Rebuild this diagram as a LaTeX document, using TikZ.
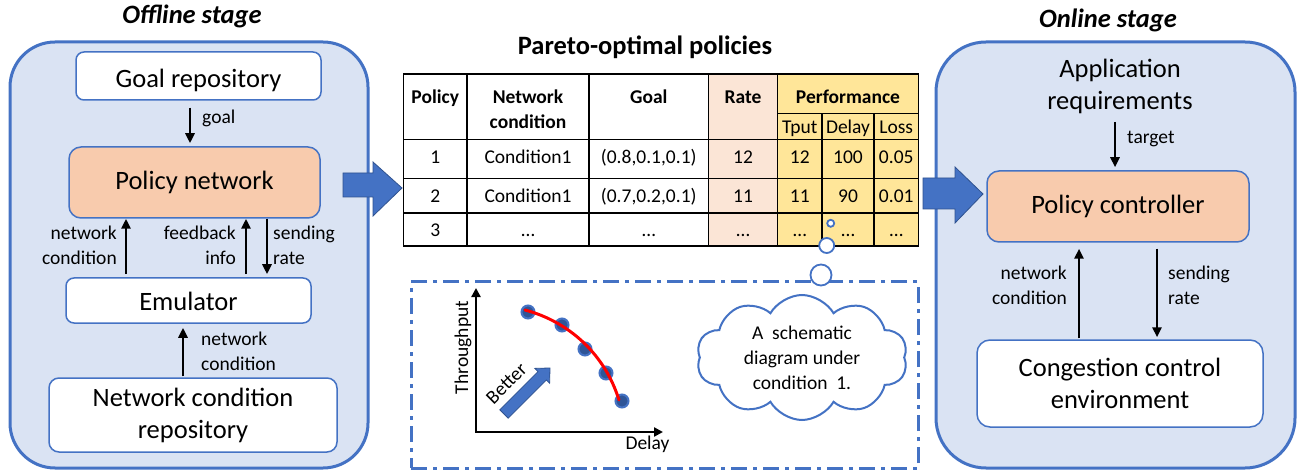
\documentclass[tikz,border=0pt]{standalone}
\usepackage{fontspec}
\setmainfont{Carlito}
\usetikzlibrary{arrows.meta,shapes.symbols,calc}
\definecolor{bl}{HTML}{4472C4}
\definecolor{dbl}{HTML}{2F528F}
\definecolor{panelfill}{HTML}{DAE3F3}
\definecolor{orangefill}{HTML}{F8CBAD}
\definecolor{ratefill}{HTML}{FBE5D6}
\definecolor{perffill}{HTML}{FFE699}
\definecolor{ptfill}{HTML}{2F5597}
\newcommand{\bigf}{\fontsize{26.5}{32}\selectfont}
\newcommand{\smf}{\fontsize{19.5}{25}\selectfont}
\begin{document}
\begin{tikzpicture}[x=1pt,y=-1pt,
  panel/.style={draw=bl, fill=panelfill, line width=3pt, inner sep=0pt},
  box/.style={draw=bl, fill=white, line width=1.5pt, inner sep=0pt, font=\bigf, align=center},
  hot/.style={box, fill=orangefill},
  lbl/.style={font=\smf, inner sep=0pt},
  cell/.style={font=\smf, inner sep=0pt, anchor=base},
  hcell/.style={font=\smf\bfseries, inner sep=0pt, anchor=base},
  arr/.style={line width=2.7pt, -{Triangle[length=10pt,width=9pt]}},
  tline/.style={line width=1.3pt, black},
  blockarrow/.style={fill=bl, draw=dbl, line width=0.8pt},
  bubble/.style={circle, draw=bl, fill=white, line width=1.8pt, inner sep=0pt},
  pt/.style={circle, fill=ptfill, draw=bl, line width=2pt, minimum size=13pt, inner sep=0pt}
]
\useasboundingbox (0,0) rectangle (1299,473);
\fill[white] (0,0) rectangle (1299,473);

% ---------------- Offline stage ----------------
\node[panel, rounded corners=45pt, minimum width=358pt, minimum height=426pt] (offpanel) at (189,255) {};
\node[font=\bigf\bfseries\itshape, anchor=base, inner sep=0pt] (offtitle) at (192,24) {Offline stage};
\node[box, rounded corners=8pt, minimum width=245pt, minimum height=48pt, text height=22.2pt, text depth=0pt] (goalrepo) at (198.5,76) {Goal repository};
\node[hot, rounded corners=12pt, minimum width=251pt, minimum height=71pt, text height=14.4pt, text depth=0pt] (policynet) at (194.5,182.5) {Policy network};
\node[box, rounded corners=8pt, minimum width=245pt, minimum height=45pt, text height=19pt, text depth=0pt] (emulator) at (188.5,300.5) {Emulator};
\node[box, rounded corners=10pt, minimum width=288pt, minimum height=74pt] (ncrepo) at (193,415) {Network condition\\repository};

\draw[arr] ($(goalrepo.south)+(-8.5,7)$) -- ($(policynet.north)+(-4.5,-3)$);
\node[lbl, anchor=base west] (goallbl) at (202,124) {goal};
\draw[arr] ($(emulator.north)+(-62.5,-3)$) -- ($(policynet.south)+(-68.5,0)$);
\draw[arr] ($(emulator.north)+(57.5,-3)$) -- ($(policynet.south)+(51.5,0)$);
\draw[arr] ($(policynet.south)+(72.5,0)$) -- ($(emulator.north)+(78.5,-3)$);
\node[lbl, anchor=east, align=right] (nclbl1) at (117,245.3) {network\\condition};
\node[lbl, anchor=east, align=right] (fblbl) at (236,245.3) {feedback\\info};
\node[lbl, anchor=west, align=left] (srlbl1) at (273,245.3) {sending\\rate};
\draw[arr] ($(ncrepo.north)+(-10,-1)$) -- ($(emulator.south)+(-5.5,4)$);
\node[lbl, anchor=west, align=left] (nclbl2) at (201,351.5) {network\\condition};

% block arrow left
\filldraw[blockarrow] (343,173) -- (373,173) -- (373,162) -- (402,188) -- (373,216) -- (373,197) -- (343,197) -- cycle;

% ---------------- Table ----------------
\node[font=\bigf\bfseries, anchor=base, inner sep=0pt] (ptitle) at (645,55) {Pareto-optimal policies};
\fill[ratefill] (708.5,74) rectangle (777.5,246);
\fill[perffill] (777.5,74) rectangle (918.5,246);
\draw[tline] (403.5,74) rectangle (918.5,246);
\foreach \xx in {467,589,708.5,777.5} \draw[tline] (\xx,74) -- (\xx,246);
\foreach \xx in {822,874} \draw[tline] (\xx,113.5) -- (\xx,246);
\foreach \yy in {139.5,178.5,213} \draw[tline] (403.5,\yy) -- (918.5,\yy);
\draw[tline] (777.5,113.5) -- (918.5,113.5);

\node[hcell] (hpol) at (435.25,103.5) {Policy};
\node[font=\smf\bfseries, inner sep=0pt, align=center] (hnet) at (528,109.5) {Network\\condition};
\node[hcell] (hgoal) at (648.75,103.5) {Goal};
\node[hcell] (hrate) at (743,103.5) {Rate};
\node[hcell] (hperf) at (848,103.5) {Performance};
\node[cell] (htput) at (799.75,134) {Tput};
\node[cell] (hdelay) at (848,134) {Delay};
\node[cell] (hloss) at (896.25,134) {Loss};

\node[cell] (a1) at (435.25,164) {1};
\node[cell] (a2) at (528,164) {Condition1};
\node[cell] (a3) at (648.75,164) {(0.8,0.1,0.1)};
\node[cell] (a4) at (743,164) {12};
\node[cell] (a5) at (799.75,164) {12};
\node[cell] (a6) at (848,164) {100};
\node[cell] (a7) at (896.25,164) {0.05};

\node[cell] (b1) at (435.25,202.7) {2};
\node[cell] (b2) at (528,202.7) {Condition1};
\node[cell] (b3) at (648.75,202.7) {(0.7,0.2,0.1)};
\node[cell] (b4) at (743,202.7) {11};
\node[cell] (b5) at (799.75,202.7) {11};
\node[cell] (b6) at (848,202.7) {90};
\node[cell] (b7) at (896.25,202.7) {0.01};

\node[cell] (c1) at (435.25,236.7) {3};
\node[cell] (c2) at (528,236.7) {…};
\node[cell] (c3) at (648.75,236.7) {…};
\node[cell] (c4) at (743,236.7) {…};
\node[cell] (c5) at (799.75,236.7) {…};
\node[cell] (c6) at (848,236.7) {…};
\node[cell] (c7) at (896.25,236.7) {…};

% ---------------- Schematic box ----------------
\node[draw=bl, line width=3pt, dash pattern=on 16pt off 6pt on 4pt off 6pt, minimum width=507pt, minimum height=186pt, inner sep=0pt] (schem) at (664.5,375) {};

\coordinate (orig) at (476,432);
\coordinate (ytip) at (476,288);
\coordinate (xtip) at (663,432);
\draw[line width=2.5pt, {Triangle[length=9pt,width=9pt]}-{Triangle[length=9pt,width=9pt]}] (ytip) -- (orig) -- (xtip);
\node[lbl, rotate=90] (tput) at (463,347.5) {Throughput};
\node[lbl, anchor=base] (delay) at (647.5,449) {Delay};

\node[pt] (p1) at (528,312) {};
\node[pt] (p2) at (562,325) {};
\node[pt] (p3) at (585,349) {};
\node[pt] (p4) at (606,373) {};
\node[pt] (p5) at (622,401) {};
\draw[red, line width=3pt, line cap=round] (525,310) .. controls (570,322) and (605,355) .. (619,400);

% "Better" block arrow
\filldraw[blockarrow] (499.8,409.8) -- (538,371.6) -- (534.8,368.4) -- (550,368) -- (549.6,383.2) -- (546.4,380) -- (508.2,418.2) -- cycle;
\node[lbl, rotate=45] (betterlbl) at (506.5,383.5) {Better};

\node[cloud, cloud puffs=10, cloud puff arc=120, aspect=1.69, draw=bl, fill=white, line width=2pt, minimum width=211pt, minimum height=125pt, inner sep=0pt, font=\smf, align=center] (cloud) at (802,357.5) {A\ \ schematic\\diagram under\\condition\ \ 1.};

\node[bubble, minimum size=7pt] (bub1) at (830.7,223.3) {};
\node[bubble, minimum size=15pt] (bub2) at (826.7,245.5) {};
\node[bubble, minimum size=21pt] (bub3) at (821,275) {};

% ---------------- Online stage ----------------
\node[panel, rounded corners=50pt, minimum width=359pt, minimum height=426pt] (onpanel) at (1115.5,255) {};
\node[font=\bigf\bfseries\itshape, anchor=base, inner sep=0pt] (ontitle) at (1108,27.7) {Online stage};
\node[font=\bigf, align=center, inner sep=0pt] (apprq) at (1120,86.5) {Application\\requirements};
\node[hot, rounded corners=12pt, minimum width=262pt, minimum height=71pt, text height=13.6pt, text depth=0pt] (policyctl) at (1118,206.5) {Policy controller};
\node[box, rounded corners=13pt, minimum width=286pt, minimum height=87pt] (ccenv) at (1120,383.5) {Congestion control\\environment};

% block arrow right (on top of the panel edge)
\filldraw[blockarrow] (923,178) -- (955,178) -- (955,167) -- (983,194) -- (955,223) -- (955,209) -- (923,209) -- cycle;

\draw[arr] ($(apprq.center)+(-5,35.5)$) -- ($(policyctl.north)+(-3,-3)$);
\node[lbl, anchor=base west] (tgtlbl) at (1127,144) {target};
\draw[arr] ($(ccenv.north)+(-41,-1)$) -- ($(policyctl.south)+(-39,6)$);
\draw[arr] ($(policyctl.south)+(39,6)$) -- ($(ccenv.north)+(37,-2)$);
\node[lbl, anchor=east, align=right] (nclbl3) at (1067,285.7) {network\\condition};
\node[lbl, anchor=west, align=left] (srlbl2) at (1168,285.7) {sending\\rate};
\end{tikzpicture}
\end{document}
